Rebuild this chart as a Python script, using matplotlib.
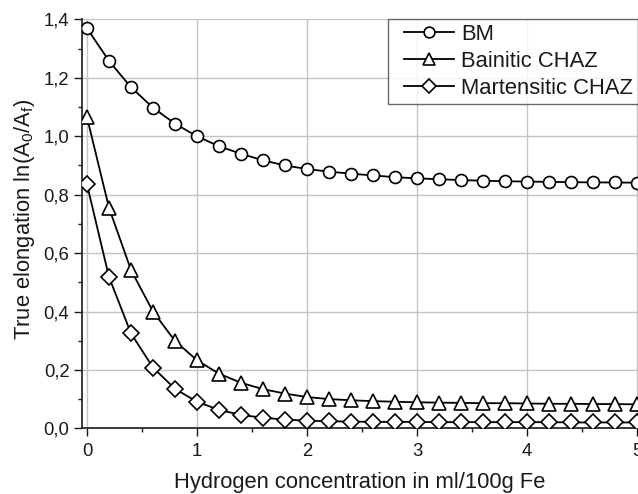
import matplotlib
matplotlib.use("Agg")
import matplotlib.pyplot as plt
from matplotlib.ticker import MultipleLocator
from matplotlib.lines import Line2D
from matplotlib.legend_handler import HandlerLine2D

plt.rcParams['font.family'] = ['Liberation Sans', 'DejaVu Sans']
plt.rcParams['mathtext.fontset'] = 'custom'
plt.rcParams['mathtext.rm'] = 'Liberation Sans'
plt.rcParams['mathtext.it'] = 'Liberation Sans:italic'

# ---- data ----
hydrogen = [0.0, 0.2, 0.4, 0.6, 0.8, 1.0, 1.2, 1.4, 1.6, 1.8, 2.0, 2.2, 2.4,
            2.6, 2.8, 3.0, 3.2, 3.4, 3.6, 3.8, 4.0, 4.2, 4.4, 4.6, 4.8, 5.0]
bm = [1.370, 1.258, 1.168, 1.098, 1.043, 1.000, 0.966, 0.940, 0.918, 0.900,
      0.888, 0.879, 0.872, 0.866, 0.860, 0.856, 0.853, 0.850, 0.848, 0.846,
      0.845, 0.844, 0.843, 0.842, 0.842, 0.841]
bainitic = [1.065, 0.755, 0.542, 0.400, 0.299, 0.233, 0.187, 0.156, 0.134,
            0.119, 0.107, 0.100, 0.096, 0.093, 0.091, 0.089, 0.088, 0.087,
            0.086, 0.086, 0.085, 0.084, 0.084, 0.083, 0.083, 0.082]
martensitic = [0.835, 0.518, 0.325, 0.208, 0.135, 0.091, 0.063, 0.046, 0.036,
               0.030, 0.026, 0.024, 0.023, 0.022, 0.022, 0.022, 0.021, 0.021,
               0.021, 0.021, 0.021, 0.021, 0.020, 0.020, 0.020, 0.020]
series_names = ['BM', 'Bainitic CHAZ', 'Martensitic CHAZ']
x_ticks = [0, 1, 2, 3, 4, 5]
x_tick_labels = ['0', '1', '2', '3', '4', '5']
y_ticks = [0.0, 0.2, 0.4, 0.6, 0.8, 1.0, 1.2, 1.4]
y_tick_labels = ['0,0', '0,2', '0,4', '0,6', '0,8', '1,0', '1,2', '1,4']

W, H = 638, 494
fig = plt.figure(figsize=(W / 100, H / 100), dpi=100)
ax_left, ax_right = 82, 650
ax_top, ax_bottom = 19.5, 428.3
ax = fig.add_axes([ax_left / W, (H - ax_bottom) / H,
                   (ax_right - ax_left) / W, (ax_bottom - ax_top) / H])

markers = ['o', '^', 'D']
msizes = [8.6, 9.8, 7.8]
for ys, name, m, ms in zip([bm, bainitic, martensitic], series_names, markers, msizes):
    ax.plot(hydrogen, ys, color='black', lw=1.3, marker=m, ms=ms,
            mfc='white', mec='black', mew=1.2, label=name, zorder=3)

ax.set_xlim(-0.0455, 5.118)
ax.set_ylim(0.0, 1.4)
ax.set_xticks(x_ticks)
ax.set_xticklabels(x_tick_labels)
ax.set_yticks(y_ticks)
ax.set_yticklabels(y_tick_labels)
ax.xaxis.set_minor_locator(MultipleLocator(0.5))
ax.yaxis.set_minor_locator(MultipleLocator(0.1))
ax.grid(True, which='major', color='#c4c4c4', lw=1.0, zorder=0)
ax.set_axisbelow(True)

for s in ['top', 'right']:
    ax.spines[s].set_visible(False)
for s in ['left', 'bottom']:
    ax.spines[s].set_linewidth(1.2)
    ax.spines[s].set_color('#1a1a1a')

ax.tick_params(which='major', direction='out', length=5.5, width=1.0,
               labelsize=13.3, color='#1a1a1a', labelcolor='#1a1a1a')
ax.tick_params(axis='x', which='major', pad=5)
ax.tick_params(axis='y', which='major', pad=3.5)
ax.tick_params(which='minor', direction='out', length=3, width=1.0, color='#1a1a1a')

ax.set_xlabel('Hydrogen concentration in ml/100g Fe', fontsize=15.8, color='#1a1a1a')
ax.set_ylabel(r'True elongation ln(A$_\mathrm{0}$/A$_\mathrm{f}$)', fontsize=15.8, color='#1a1a1a')
ax.xaxis.set_label_coords((360 - ax_left) / (ax_right - ax_left), -0.107)
ax.yaxis.set_label_coords(-0.080, (ax_bottom - 219) / (ax_bottom - ax_top))

leg = ax.legend(loc='upper left', bbox_to_anchor=(388 / W, 1 - 19 / H),
                bbox_transform=fig.transFigure, fontsize=15.8, frameon=True,
                fancybox=False, borderaxespad=0, borderpad=0.22,
                labelspacing=0.27, handlelength=2.8, handletextpad=0.3,
                markerscale=0.9,
                handler_map={Line2D: HandlerLine2D(xpad=0.5)})
leg.get_frame().set_edgecolor('#444444')
leg.get_frame().set_linewidth(1.0)
for t in leg.get_texts():
    t.set_color('#1a1a1a')

fig.savefig('out.png', dpi=100)
